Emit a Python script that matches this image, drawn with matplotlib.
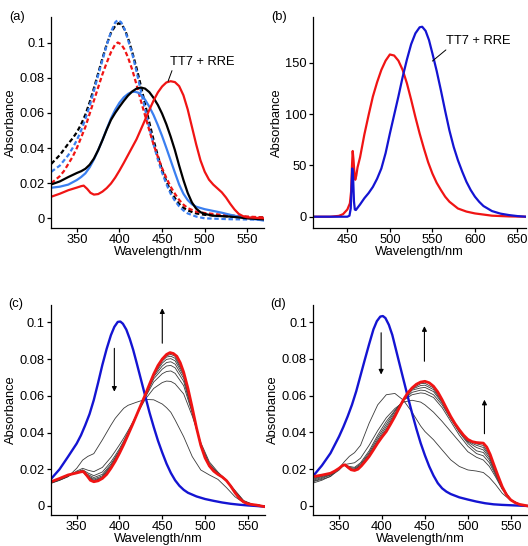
import matplotlib
matplotlib.use("Agg")
import matplotlib.pyplot as plt

plt.rcParams['font.family'] = ['Liberation Sans', 'DejaVu Sans']

# ---------------- data: panel (a) ----------------
a_red_x = [320, 330, 340, 350, 355, 358, 362, 366, 370, 375, 380, 385, 390, 395, 400, 405, 410, 415, 420, 425, 430, 435, 440, 445, 450, 455, 460, 465, 470, 475, 480, 485, 490, 495, 500, 505, 510, 515, 520, 525, 530, 535, 540, 545, 550, 560, 570]
a_red_y = [.0123, .0140, .0160, .0175, .0183, .0186, .0168, .0145, .0135, .0138, .0152, .0172, .0198, .0232, .0272, .0315, .0360, .0405, .0450, .0505, .0560, .0617, .0670, .0716, .0750, .0773, .0780, .0775, .0752, .0700, .0620, .0520, .0420, .0330, .0265, .0220, .0192, .0170, .0148, .0118, .0082, .0050, .0025, .0012, .0006, .0003, 0]
a_reddash_x = [320, 330, 335, 340, 345, 350, 355, 360, 365, 370, 375, 380, 385, 390, 395, 398, 402, 406, 410, 415, 420, 425, 430, 435, 440, 445, 450, 455, 460, 465, 470, 475, 480, 490, 500, 520, 550, 570]
a_reddash_y = [.020, .024, .027, .031, .035, .040, .046, .052, .0595, .067, .0745, .082, .0885, .0945, .0990, .1000, .0990, .0960, .0915, .0845, .0760, .0670, .0585, .0500, .0420, .0350, .0285, .0230, .0180, .0140, .0105, .0078, .0058, .0038, .0030, .0020, .0010, .0005]
a_bluedash_x = [320, 330, 335, 340, 345, 350, 355, 360, 365, 370, 375, 380, 385, 390, 395, 398, 402, 406, 410, 415, 420, 425, 430, 435, 440, 445, 450, 455, 460, 465, 470, 475, 480, 490, 500, 530, 570]
a_bluedash_y = [.0265, .030, .033, .036, .040, .0445, .050, .0565, .064, .0725, .0815, .090, .0985, .106, .1115, .1128, .1115, .1075, .1015, .0935, .0835, .0725, .0620, .0515, .0420, .0335, .0260, .0195, .0140, .0100, .0068, .0045, .0028, .0010, 0, -.0005, -.0008]
a_blackdash_x = [320, 330, 340, 345, 350, 355, 360, 365, 370, 375, 380, 385, 390, 395, 399, 403, 407, 411, 415, 420, 425, 430, 435, 440, 445, 450, 455, 460, 465, 470, 475, 480, 490, 500, 530, 570]
a_blackdash_y = [.031, .036, .0425, .0455, .049, .0535, .059, .066, .074, .0825, .091, .099, .1055, .1095, .111, .110, .1065, .1010, .0945, .0855, .0755, .0650, .0545, .0445, .0355, .0275, .0210, .0155, .0115, .0082, .0060, .0045, .0028, .0020, .0010, .0005]
a_blue_x = [320, 330, 340, 350, 355, 360, 365, 370, 375, 380, 385, 390, 395, 400, 405, 410, 414, 418, 422, 426, 430, 435, 440, 445, 450, 455, 460, 465, 470, 475, 480, 485, 490, 500, 510, 520, 530, 540, 550, 560, 570]
a_blue_y = [.0174, .0180, .0192, .0218, .0235, .0256, .0290, .0335, .0388, .0445, .0508, .0568, .0618, .0658, .0688, .0708, .0718, .0720, .0715, .0700, .0675, .0635, .0587, .0530, .0468, .0400, .0330, .0260, .0192, .0140, .0104, .0080, .0066, .0052, .0042, .0032, .0020, .0010, .0002, -.0006, -.0013]
a_black_x = [320, 330, 340, 350, 355, 360, 365, 370, 375, 380, 385, 390, 395, 400, 405, 410, 415, 420, 425, 430, 435, 440, 445, 450, 455, 460, 465, 470, 475, 480, 485, 490, 495, 500, 510, 530, 550, 570]
a_black_y = [.0193, .0210, .0235, .0258, .0268, .0282, .0305, .0340, .0388, .0445, .0505, .0560, .0600, .0635, .0668, .0698, .0722, .0738, .0744, .0738, .0718, .0685, .0645, .0595, .0535, .0465, .0388, .0300, .0218, .0145, .0090, .0055, .0035, .0025, .0015, .0010, 0, -.0006]

# ---------------- data: panel (b) ----------------
b_red_x = [410, 430, 440, 445, 450, 453, 454.5, 455.5, 456.3, 457.3, 458.5, 459.3, 460.5, 462, 465, 470, 475, 480, 485, 490, 495, 500, 505, 510, 515, 520, 525, 530, 535, 540, 545, 550, 555, 560, 565, 570, 580, 590, 600, 620, 640, 660]
b_red_y = [0, 0, .8, 2.5, 7, 13, 25, 50, 64, 55, 40, 36, 40, 48, 58, 80, 99, 117, 131, 143, 152, 158, 157, 152, 143, 130, 114, 97, 81, 66.5, 53, 42, 33, 26, 19.5, 14.6, 8, 5, 3.2, 1, .3, 0]
b_blue_x = [410, 450, 452.5, 454, 455, 455.8, 456.8, 457.8, 458.8, 460, 465, 470, 475, 480, 485, 490, 495, 500, 505, 510, 515, 520, 525, 530, 535, 538, 542, 546, 550, 555, 560, 565, 570, 575, 580, 585, 590, 595, 600, 605, 610, 620, 630, 640, 650, 660]
b_blue_y = [0, 0, 1, 8, 30, 47, 38, 15, 7, 6.5, 12, 18, 23, 29, 37, 47, 62, 81, 99, 117, 136, 153, 168, 178.6, 184.5, 185, 181, 172, 159, 142, 123, 103, 84, 68, 55, 44, 34, 26, 19.5, 14.5, 10.4, 5.5, 3, 1.6, .6, 0]

# ---------------- data: panel (c) ----------------
c_blue_x = [320, 330, 340, 350, 355, 360, 365, 370, 375, 380, 385, 390, 394, 398, 401, 404, 408, 412, 416, 420, 425, 430, 435, 440, 445, 450, 455, 460, 465, 470, 475, 480, 490, 500, 510, 520, 530, 540, 550, 560, 570]
c_blue_y = [.0147, .020, .0269, .034, .0385, .044, .050, .0577, .067, .0768, .0855, .093, .0975, .1002, .1004, .0992, .0960, .0910, .0850, .0780, .0690, .0600, .0510, .0430, .0355, .0290, .0230, .0180, .0140, .0110, .0088, .0072, .0052, .0038, .0028, .0019, .0012, .0007, .0003, 0, -.0004]
c_red_x = [320, 330, 340, 350, 355, 358, 362, 366, 370, 375, 380, 385, 390, 395, 400, 405, 410, 415, 420, 425, 430, 435, 440, 445, 450, 455, 459, 463, 467, 471, 475, 480, 485, 490, 495, 500, 505, 510, 515, 520, 525, 530, 535, 540, 545, 550, 555, 560, 570]
c_red_y = [.0132, .0150, .0169, .0180, .0186, .0187, .0165, .0140, .0132, .0137, .0150, .0172, .0205, .0243, .0287, .0335, .0387, .0440, .0495, .0550, .0604, .0662, .0718, .0765, .0800, .0825, .0835, .0830, .0815, .0780, .0728, .0640, .0535, .0425, .0330, .0262, .0218, .0190, .0172, .0158, .0138, .0108, .0072, .0042, .0022, .0012, .0008, .0005, -.0004]
c_wl = [320, 330, 340, 350, 357, 363, 370, 380, 390, 395, 400, 405, 410, 420, 430, 440, 450, 455, 460, 465, 475, 485, 495, 505, 515, 525, 535, 545, 555, 570]
c_g1 = [.0123, .0140, .0160, .0205, .0250, .0270, .0285, .0360, .0440, .0477, .0505, .0532, .0548, .0565, .0580, .0578, .0555, .0535, .0510, .0468, .0377, .0269, .0196, .0169, .0145, .0100, .0050, .0018, .0006, 0]
c_g2 = [.0125, .0140, .0160, .0190, .0205, .0195, .0187, .0210, .0265, .0298, .0333, .0370, .0410, .0495, .0580, .0640, .0672, .0680, .0678, .0665, .0610, .0490, .0345, .0240, .0185, .0140, .0085, .0030, .0010, 0]
c_g3 = [.0127, .0143, .0163, .0185, .0197, .0180, .0165, .0185, .0240, .0275, .0312, .0355, .0400, .0495, .0590, .0675, .0720, .0732, .0735, .0722, .0655, .0505, .0335, .0230, .0180, .0140, .0080, .0027, .0009, 0]
c_g4 = [.0128, .0145, .0165, .0183, .0193, .0172, .0155, .0172, .0228, .0265, .0302, .0347, .0395, .0495, .0595, .0692, .0745, .0762, .0765, .0752, .0678, .0512, .0330, .0225, .0177, .0140, .0078, .0025, .0009, 0]
c_g5 = [.0129, .0146, .0166, .0182, .0191, .0166, .0147, .0164, .0220, .0258, .0297, .0342, .0392, .0495, .0598, .0703, .0762, .0781, .0785, .0772, .0695, .0518, .0328, .0220, .0175, .0139, .0076, .0024, .0009, 0]
c_g6 = [.0130, .0147, .0167, .0181, .0189, .0162, .0141, .0158, .0214, .0253, .0293, .0339, .0390, .0495, .0600, .0710, .0778, .0798, .0802, .0790, .0708, .0524, .0327, .0218, .0174, .0139, .0074, .0023, .0008, 0]
c_g7 = [.0131, .0148, .0168, .0181, .0188, .0158, .0136, .0154, .0209, .0249, .0290, .0337, .0388, .0495, .0602, .0716, .0789, .0811, .0815, .0804, .0718, .0528, .0326, .0216, .0173, .0138, .0073, .0023, .0008, 0]
c_g8 = [.0131, .0149, .0169, .0180, .0187, .0156, .0134, .0152, .0207, .0247, .0288, .0336, .0387, .0495, .0603, .0719, .0794, .0818, .0825, .0815, .0724, .0531, .0325, .0215, .0172, .0138, .0072, .0022, .0008, 0]

# ---------------- data: panel (d) ----------------
d_blue_x = [320, 330, 340, 350, 355, 360, 365, 370, 375, 380, 385, 390, 394, 398, 401, 404, 408, 412, 416, 420, 425, 430, 435, 440, 445, 450, 455, 460, 465, 470, 475, 480, 490, 500, 510, 520, 530, 540, 550, 570]
d_blue_y = [.0164, .022, .0287, .0378, .043, .0487, .055, .0624, .071, .0796, .088, .096, .1005, .1030, .1033, .1022, .0985, .0930, .0855, .0780, .0687, .0595, .0505, .0420, .0342, .0275, .0215, .0165, .0124, .0096, .0078, .0065, .0047, .0035, .0024, .0015, .0009, .0006, .0004, 0]
d_red_x = [320, 330, 340, 345, 350, 354, 357, 360, 364, 368, 372, 376, 380, 385, 390, 395, 400, 405, 410, 415, 420, 425, 430, 435, 440, 445, 450, 455, 460, 465, 470, 475, 480, 485, 490, 495, 500, 505, 510, 515, 518, 522, 526, 530, 535, 540, 545, 550, 555, 560, 570]
d_red_y = [.0160, .0168, .0178, .0190, .0205, .0220, .0224, .0212, .0197, .0193, .0200, .0218, .0240, .0269, .0305, .0342, .0375, .0405, .0445, .0487, .0533, .0578, .0615, .0642, .0662, .0674, .0678, .0670, .0651, .0620, .0578, .0532, .0487, .0448, .0415, .0385, .0362, .0350, .0345, .0343, .0342, .0320, .0280, .0228, .0165, .0105, .0060, .0033, .0018, .0009, 0]
d_wl = [320, 330, 340, 350, 356, 362, 368, 375, 385, 395, 405, 415, 425, 435, 445, 450, 460, 470, 480, 490, 500, 510, 518, 525, 532, 540, 550, 560, 570]
d_g1 = [.0133, .0145, .0160, .0205, .0240, .0270, .0290, .0330, .0450, .0550, .0605, .0612, .0575, .0510, .0435, .0405, .0360, .0305, .0251, .0215, .0196, .0190, .0182, .0155, .0118, .0069, .0029, .0008, 0]
d_g2 = [.0125, .0140, .0162, .0195, .0225, .0230, .0235, .0260, .0330, .0410, .0480, .0530, .0565, .0575, .0565, .0550, .0510, .0460, .0405, .0350, .0295, .0265, .0250, .0215, .0160, .0090, .0035, .0009, 0]
d_g3 = [.0135, .0150, .0168, .0200, .0225, .0215, .0210, .0235, .0300, .0385, .0460, .0520, .0575, .0605, .0615, .0612, .0590, .0535, .0460, .0385, .0325, .0285, .0273, .0235, .0170, .0095, .0032, .0008, 0]
d_g4 = [.0140, .0155, .0170, .0202, .0224, .0210, .0205, .0228, .0290, .0372, .0445, .0515, .0576, .0618, .0630, .0628, .0605, .0550, .0473, .0400, .0340, .0300, .0291, .0250, .0178, .0098, .0032, .0008, 0]
d_g5 = [.0145, .0160, .0173, .0203, .0224, .0205, .0200, .0222, .0282, .0360, .0432, .0505, .0577, .0630, .0642, .0645, .0622, .0560, .0478, .0405, .0348, .0318, .0305, .0262, .0184, .0100, .0033, .0008, 0]
d_g6 = [.0150, .0163, .0175, .0204, .0224, .0202, .0197, .0219, .0277, .0352, .0420, .0497, .0578, .0635, .0655, .0657, .0633, .0566, .0481, .0409, .0352, .0330, .0318, .0272, .0189, .0102, .0033, .0009, 0]
d_g7 = [.0155, .0165, .0176, .0205, .0224, .0200, .0195, .0217, .0273, .0347, .0412, .0492, .0578, .0638, .0665, .0667, .0642, .0572, .0484, .0412, .0356, .0338, .0329, .0280, .0193, .0104, .0033, .0009, 0]

# ---------------- styling ----------------
RED = '#f01414'
BLUE = '#1414d2'
LBLUE = '#3a7ff0'
GRAY = '#3a3a3a'
FS = 9.3
W, H = 528, 546

fig = plt.figure(figsize=(W / 100, H / 100), dpi=100)


def make_ax(l, r, t, b):
    ax = fig.add_axes([l / W, 1 - b / H, (r - l) / W, (b - t) / H])
    for s in ('top', 'right'):
        ax.spines[s].set_visible(False)
    for s in ('left', 'bottom'):
        ax.spines[s].set_linewidth(0.9)
    ax.tick_params(direction='out', length=3, width=0.9, labelsize=FS, pad=1.5)
    ax.set_ylabel('Absorbance', fontsize=FS, labelpad=2)
    ax.set_xlabel('Wavelength/nm', fontsize=FS, labelpad=0)
    return ax


ytick_vals = [0, 0.02, 0.04, 0.06, 0.08, 0.1]
ytick_lbls = ['0', '0.02', '0.04', '0.06', '0.08', '0.1']
xt = [350, 400, 450, 500, 550]

# (a)
ax = make_ax(51.3, 264.4, 16.7, 228)
ax.plot(a_blackdash_x, a_blackdash_y, color='k', lw=1.6, dashes=(2, 1.2))
ax.plot(a_bluedash_x, a_bluedash_y, color=LBLUE, lw=1.6, dashes=(2, 1.2))
ax.plot(a_reddash_x, a_reddash_y, color=RED, lw=1.6, dashes=(2, 1.2))
ax.plot(a_blue_x, a_blue_y, color=LBLUE, lw=1.6)
ax.plot(a_black_x, a_black_y, color='k', lw=1.6)
ax.plot(a_red_x, a_red_y, color=RED, lw=1.6)
ax.set_xlim(320, 570)
ax.set_ylim(-0.0055, 0.1147)
ax.set_xticks(xt)
ax.set_yticks(ytick_vals, ytick_lbls)
ax.annotate('TT7 + RRE', xy=(457, 0.078), xytext=(459, 0.089), fontsize=FS,
            va='center', ha='left',
            arrowprops=dict(arrowstyle='-', color='k', lw=0.7, shrinkA=0, shrinkB=0,
                            relpos=(0.05, 0.0)))

# (b)
ax = make_ax(313.3, 526, 16.7, 227.7)
ax.plot(b_red_x, b_red_y, color=RED, lw=1.6)
ax.plot(b_blue_x, b_blue_y, color=BLUE, lw=1.6)
ax.set_xlim(410, 660)
ax.set_ylim(-10.7, 194.8)
ax.set_xticks([450, 500, 550, 600, 650])
ax.set_yticks([0, 50, 100, 150])
ax.annotate('TT7 + RRE', xy=(550, 151.6), xytext=(566, 171), fontsize=FS,
            va='center', ha='left',
            arrowprops=dict(arrowstyle='-', color='k', lw=0.7, shrinkA=0, shrinkB=0,
                            relpos=(0.05, 0.0)))

# (c)
ax = make_ax(51, 265, 305, 515)
for g in (c_g1, c_g2, c_g3, c_g4, c_g5, c_g6, c_g7, c_g8):
    ax.plot(c_wl, g, color=GRAY, lw=0.6)
ax.plot(c_blue_x, c_blue_y, color=BLUE, lw=1.7)
ax.plot(c_red_x, c_red_y, color=RED, lw=2.0)
ax.set_xlim(320, 570)
ax.set_ylim(-0.0049, 0.1094)
ax.set_xticks(xt)
ax.set_yticks(ytick_vals, ytick_lbls)
arr = dict(arrowstyle='-|>', color='k', lw=0.8, mutation_scale=7, shrinkA=0, shrinkB=0)
ax.annotate('', xy=(450, 0.1076), xytext=(450, 0.0886), arrowprops=arr)
ax.annotate('', xy=(394, 0.0622), xytext=(394, 0.0858), arrowprops=arr)

# (d)
ax = make_ax(313.3, 528, 305, 515)
for g in (d_g1, d_g2, d_g3, d_g4, d_g5, d_g6, d_g7):
    ax.plot(d_wl, g, color=GRAY, lw=0.6)
ax.plot(d_blue_x, d_blue_y, color=BLUE, lw=1.7)
ax.plot(d_red_x, d_red_y, color=RED, lw=2.0)
ax.set_xlim(320, 570)
ax.set_ylim(-0.0049, 0.1093)
ax.set_xticks(xt)
ax.set_yticks(ytick_vals, ytick_lbls)
ax.annotate('', xy=(399, 0.0715), xytext=(399, 0.0942), arrowprops=arr)
ax.annotate('', xy=(449.4, 0.0978), xytext=(449.4, 0.0787), arrowprops=arr)
ax.annotate('', xy=(519.3, 0.0578), xytext=(519.3, 0.0393), arrowprops=arr)

# panel letters
for lbl, x, y in (('(a)', 9, 17), ('(b)', 271, 17), ('(c)', 8, 304), ('(d)', 270, 304)):
    fig.text(x / W, 1 - y / H, lbl, fontsize=FS, va='center', ha='left')

fig.savefig('out.png', dpi=100)
